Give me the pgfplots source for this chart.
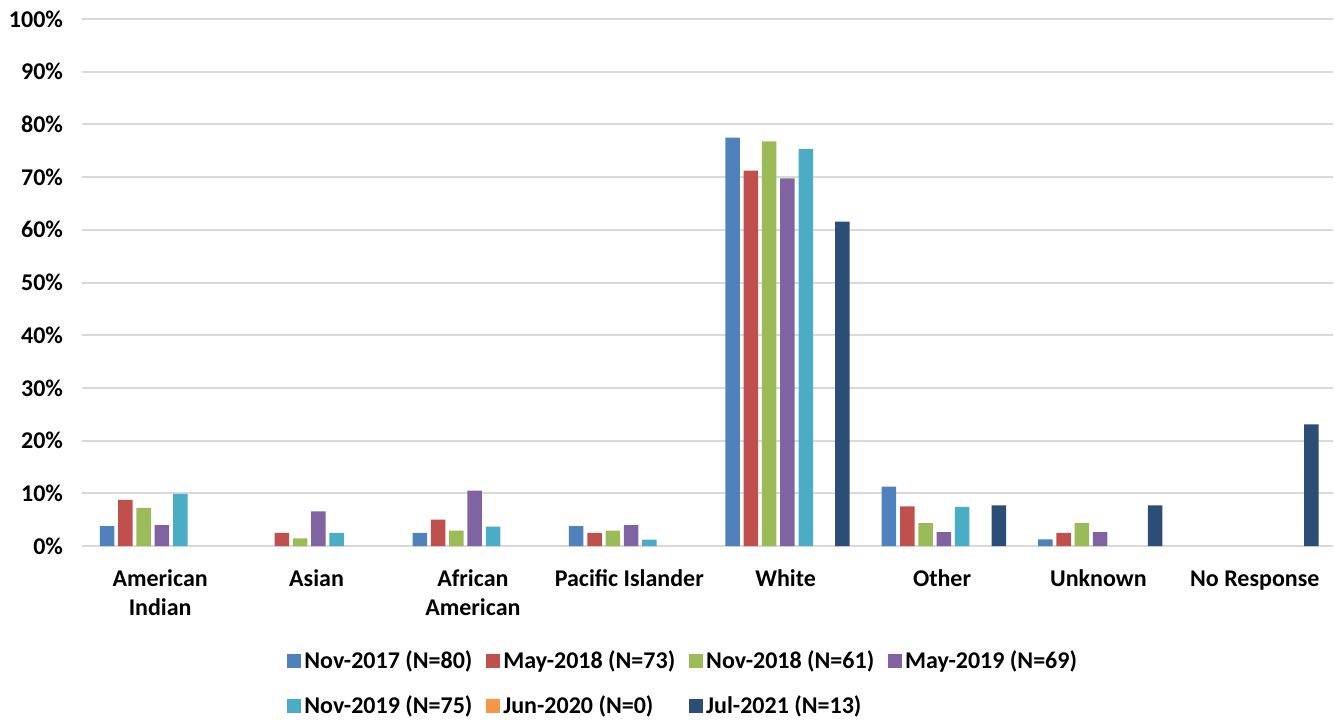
\documentclass[border=0pt]{standalone}
\usepackage{fontspec}
\setmainfont{Carlito}
\usepackage{pgfplots}
\pgfplotsset{compat=1.18}
\definecolor{c1}{HTML}{4F81BD}
\definecolor{c2}{HTML}{C0504D}
\definecolor{c3}{HTML}{9BBB59}
\definecolor{c4}{HTML}{8064A2}
\definecolor{c5}{HTML}{4BACC6}
\definecolor{c6}{HTML}{F79646}
\definecolor{c7}{HTML}{2C4D75}
\definecolor{gridc}{HTML}{D9D9D9}
\begin{document}
\begin{tikzpicture}
\begin{axis}[
  scale only axis,
  width=625.5pt, height=263.5pt,
  ymin=0, ymax=100,
  ytick={0,10,...,100},
  yticklabel={\pgfmathprintnumber{\tick}\%},
  xmin=-0.5, xmax=7.5,
  xtick={0,...,7},
  xticklabels={{\strut American\\Indian},\strut Asian,{\strut African\\American},\strut Pacific Islander,\strut White,\strut Other,\strut Unknown,\strut No Response},
  xticklabel style={align=center, anchor=north, font=\fontsize{12}{14.5}\selectfont\bfseries, yshift=-6.5pt},
  yticklabel style={font=\fontsize{12}{14}\selectfont\bfseries, xshift=-6pt},
  /pgf/number format/assume math mode=true,
  major tick length=0pt,
  ymajorgrids,
  grid style={gridc, line width=1pt},
  axis x line*=bottom,
  axis y line*=left,
  x axis line style={draw=gridc, line width=1pt, -},
  y axis line style={draw=none},
  ybar, bar width=7.25pt,
  legend columns=4,
  legend style={at={(axis description cs:0,0)}, anchor=north west, xshift=102.5pt, yshift=-50.5pt,
    draw=none, fill=none, inner sep=0pt,
    font=\fontsize{12}{14}\selectfont\bfseries,
    /tikz/every even column/.append style={column sep=5.5pt},
    row sep=9pt,
    nodes={inner sep=1.5pt}},
  legend cell align=left,
  legend image code/.code={\fill[#1] (0pt,-3.5pt) rectangle (7pt,3.5pt);},
]
\addplot[fill=c1, draw=none, bar shift=-26.55pt] coordinates {(0,3.75) (2,2.5) (3,3.75) (4,77.5) (5,11.25) (6,1.25)};
\addlegendentry{Nov-2017 (N=80)}
\addplot[fill=c2, draw=none, bar shift=-17.4pt] coordinates {(0,8.75) (1,2.5) (2,5.0) (3,2.5) (4,71.25) (5,7.5) (6,2.5)};
\addlegendentry{May-2018 (N=73)}
\addplot[fill=c3, draw=none, bar shift=-8.25pt] coordinates {(0,7.25) (1,1.45) (2,2.9) (3,2.9) (4,76.8) (5,4.35) (6,4.35)};
\addlegendentry{Nov-2018 (N=61)}
\addplot[fill=c4, draw=none, bar shift=0.9pt] coordinates {(0,3.95) (1,6.58) (2,10.53) (3,3.95) (4,69.74) (5,2.63) (6,2.63)};
\addlegendentry{May-2019 (N=69)}
\addplot[fill=c5, draw=none, bar shift=10.05pt] coordinates {(0,9.88) (1,2.47) (2,3.70) (3,1.23) (4,75.31) (5,7.41)};
\addlegendentry{Nov-2019 (N=75)}
\addlegendimage{fill=c6, draw=none}
\addlegendentry{Jun-2020 (N=0)}
\addplot[fill=c7, draw=none, bar shift=28.35pt] coordinates {(4,61.54) (5,7.69) (6,7.69) (7,23.08)};
\addlegendentry{Jul-2021 (N=13)}
\end{axis}
\pgfresetboundingbox
\path[use as bounding box] (-41pt,-86.5pt) rectangle (626.5pt,273pt);
\end{tikzpicture}
\end{document}
